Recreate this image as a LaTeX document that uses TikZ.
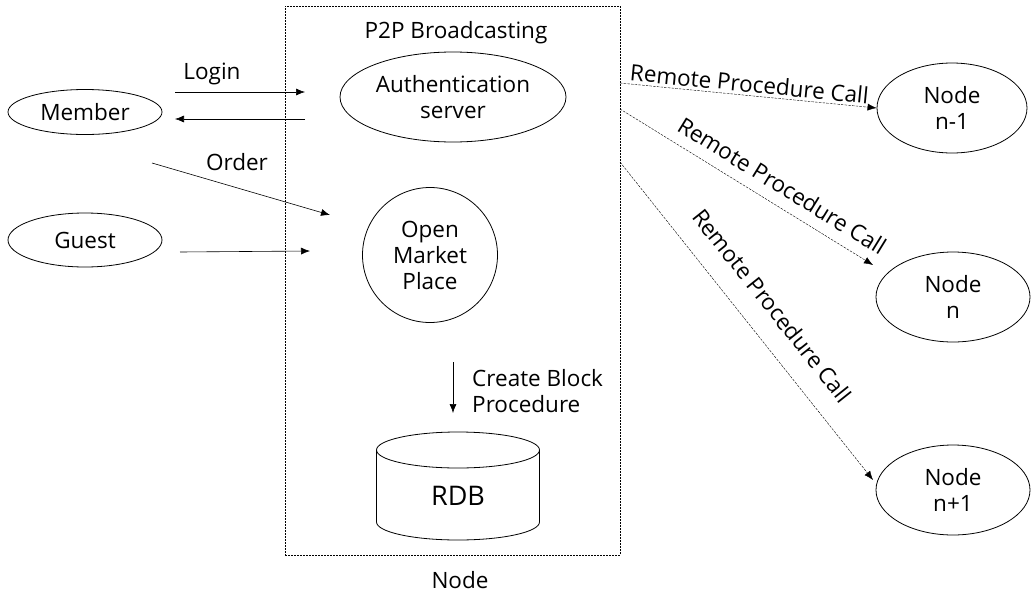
\documentclass[tikz,border=0pt]{standalone}
\usepackage{fontspec}
\setmainfont{Open Sans}
\usetikzlibrary{arrows.meta,shapes.geometric}
\begin{document}
\begin{tikzpicture}[x=1pt,y=-1pt,
  font=\fontsize{22.5}{26}\selectfont,
  lbl/.style={inner sep=1pt},
  oval/.style={draw,ellipse,inner sep=0pt,thick},
  arr/.style={-{Latex[length=9pt,width=7pt]},semithick},
  rpc/.style={-{Latex[length=9pt,width=7pt]},thin,dash pattern=on 2.5pt off 1.2pt},
  frame/.style={draw,thin,dash pattern=on 2pt off 1pt}]
\useasboundingbox (0,0) rectangle (1031,600);

% node boundary
\node[frame,minimum width=335,minimum height=549,inner sep=0pt] (box) at (452.5,280.5) {};
\node[lbl] (p2p) at (456,33) {P2P Broadcasting};
\node[lbl] (nodecap) at (460,580) {Node};

% services inside the node
\node[oval,minimum width=226,minimum height=90,align=center] (auth) at (453,97)
  {Authentication\\server};
\node[draw,circle,thick,minimum size=135,inner sep=0pt,align=center] (omp) at (430,255)
  {Open\\Market\\Place};

% relational database (cylinder)
\node[minimum width=163,minimum height=126,inner sep=0pt] (rdb) at (458,486) {};
\draw[thick] (376.5,450) -- (376.5,522)
  arc[start angle=180,end angle=0,x radius=81.5,y radius=18] -- (539.5,450);
\draw[thick] (458,450) ellipse[x radius=81.5,y radius=18];
\node[font=\fontsize{27}{30}\selectfont] (rdbtxt) at (458,496) {RDB};

\coordinate (cbA) at (453,362);
\coordinate (cbB) at (453,413);
\draw[arr] (cbA) -- (cbB);
\node[lbl,anchor=west,align=left] (cblbl) at (471,391) {Create Block\\Procedure};

% clients
\node[oval,minimum width=154,minimum height=45] (member) at (85,112) {Member};
\node[oval,minimum width=154,minimum height=54] (guest) at (85,240) {Guest};

\coordinate (li1) at (175,92);
\coordinate (li2) at (305,92);
\coordinate (lo1) at (305,119);
\coordinate (lo2) at (175,119);
\coordinate (or1) at (152,163);
\coordinate (or2) at (330,215);
\coordinate (gu1) at (180,252);
\coordinate (gu2) at (310,251);
\draw[arr] (li1) -- (li2);
\draw[arr] (lo1) -- (lo2);
\draw[arr] (or1) -- (or2);
\draw[arr] (gu1) -- (gu2);
\node[lbl] (login) at (212,74) {Login};
\node[lbl] (order) at (237,162) {Order};

% peer nodes
\node[oval,minimum width=150,minimum height=90,align=center] (n1) at (952,108) {Node\\n-1};
\node[oval,minimum width=154,minimum height=90,align=center] (n2) at (953,297) {Node\\n};
\node[oval,minimum width=154,minimum height=90,align=center] (n3) at (953,490) {Node\\n+1};

\coordinate (r1) at (620,83);
\coordinate (r2) at (620,109);
\coordinate (r3) at (620,162);
\coordinate (e2) at (873,265);
\coordinate (e3) at (873,480);
\draw[rpc] (r1) -- node[above=2pt,sloped,lbl,pos=0.5] {Remote Procedure Call} (n1.west);
\draw[rpc] (r2) -- node[above=10pt,sloped,lbl,pos=0.6] {Remote Procedure Call} (e2);
\draw[rpc] (r3) -- node[above=20pt,sloped,lbl,pos=0.51] {Remote Procedure Call} (e3);
\end{tikzpicture}
\end{document}
